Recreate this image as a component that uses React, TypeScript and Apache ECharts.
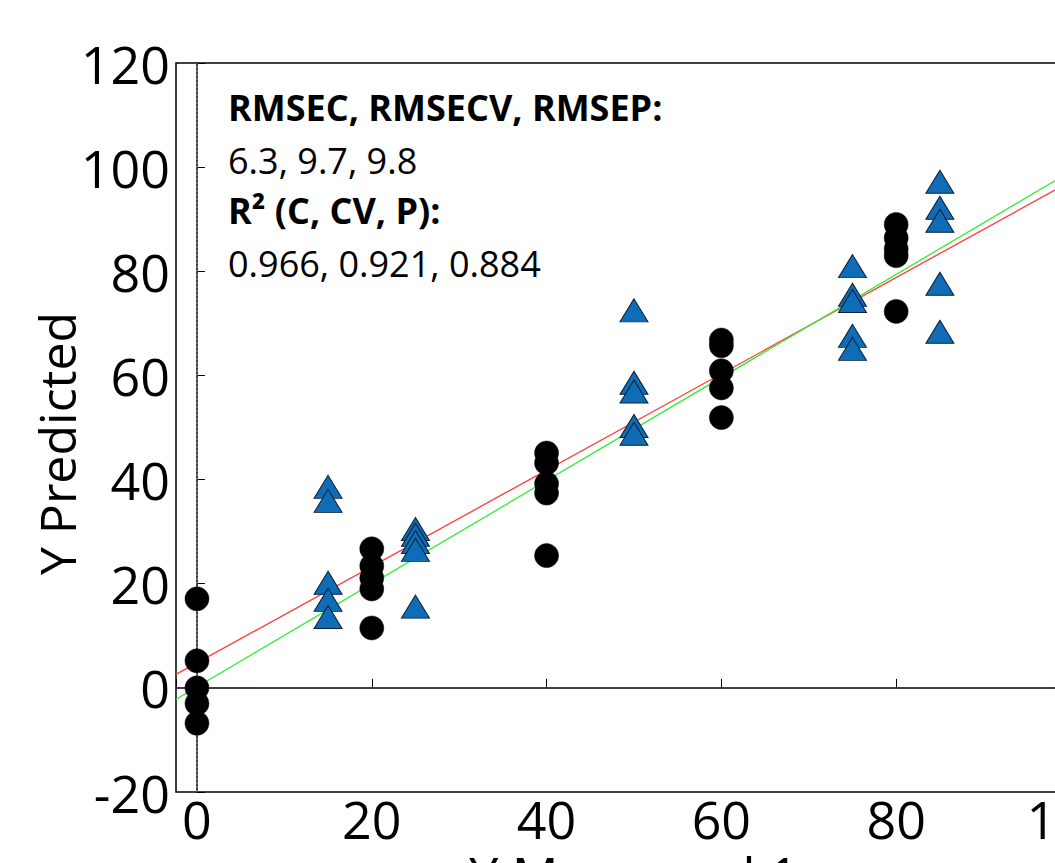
import React, { useEffect, useRef } from "react";
import * as echarts from "echarts";

// Calibration samples (black circles)
const measuredCal = [0, 0, 0, 0, 0, 20, 20, 20, 20, 20, 40, 40, 40, 40, 40, 60, 60, 60, 60, 60, 80, 80, 80, 80, 80];
const predictedCal = [17.1, 5.2, 0.0, -3.0, -6.8, 26.7, 23.4, 21.1, 19.0, 11.5, 45.1, 43.2, 39.2, 37.4, 25.4, 66.8, 65.7, 60.9, 57.6, 51.9, 89.0, 86.4, 84.3, 83.0, 72.3];

// Prediction samples (blue triangles)
const measuredPred = [15, 15, 15, 15, 15, 25, 25, 25, 25, 25, 50, 50, 50, 50, 50, 75, 75, 75, 75, 75, 85, 85, 85, 85, 85];
const predictedPred = [38.6, 35.9, 20.2, 16.9, 13.6, 30.5, 29.4, 28.0, 26.5, 15.6, 72.5, 58.6, 56.9, 50.3, 48.8, 81.0, 75.5, 74.3, 67.6, 65.1, 97.2, 92.2, 89.7, 77.6, 68.4];

// Fit lines: [intercept, slope]
const redFit = [4.8, 0.925];
const greenFit = [0.2, 0.99];

const xTicks = [0, 20, 40, 60, 80, 100];
const statLines = [
  { text: "RMSEC, RMSECV, RMSEP:", bold: true },
  { text: "6.3, 9.7, 9.8", bold: false },
  { text: "R² (C, CV, P):", bold: true },
  { text: "0.966, 0.921, 0.884", bold: false },
];

const X_MIN = -2.4;
const X_MAX = 102.4;
const FONT = "'Open Sans', 'Noto Sans', sans-serif";

export default function App() {
  const ref = useRef<HTMLDivElement>(null);
  useEffect(() => {
    if (!ref.current) return;
    const chart = echarts.init(ref.current, undefined, { renderer: "svg" });
    const fitLine = (f: number[]) => [
      [X_MIN, f[0] + f[1] * X_MIN],
      [X_MAX, f[0] + f[1] * X_MAX],
    ];
    const lineYs = [107, 160, 210, 263];
    chart.setOption({
      animation: false,
      backgroundColor: "#fff",
      textStyle: { fontFamily: FONT },
      grid: {
        left: 176,
        top: 63,
        width: (X_MAX - X_MIN) * 8.74,
        height: 729,
        containLabel: false,
        outerBoundsMode: "none",
        show: true,
        borderColor: "#000",
        borderWidth: 1.5,
        backgroundColor: "transparent",
      },
      xAxis: {
        type: "value",
        min: X_MIN,
        max: X_MAX,
        name: "Y Measured 1",
        nameLocation: "middle",
        nameGap: 60,
        nameMoveOverlap: false,
        nameTextStyle: { fontSize: 52, lineHeight: 44, color: "#000", fontFamily: FONT },
        axisLine: { show: true, lineStyle: { color: "#000", width: 1.5 } },
        axisTick: { show: true, inside: true, length: 9, lineStyle: { color: "#000" } },
        axisLabel: {
          fontSize: 52,
          color: "#000",
          fontFamily: FONT,
          margin: 0,
          hideOverlap: false,
          formatter: (v: number) => (xTicks.some((t) => Math.abs(t - v) < 1e-6) ? String(Math.round(v)) : ""),
        },
        splitLine: { show: false },
      },
      yAxis: {
        type: "value",
        min: -20,
        max: 120,
        interval: 20,
        name: "Y Predicted",
        nameLocation: "middle",
        nameGap: 94,
        nameMoveOverlap: false,
        nameTextStyle: { fontSize: 50, color: "#000", fontFamily: FONT, padding: [0, 32, 0, 0] },
        axisLine: { show: true, lineStyle: { color: "#000", width: 1.5 } },
        axisTick: { show: true, inside: true, length: 8, lineStyle: { color: "#000" } },
        axisLabel: { fontSize: 52, color: "#000", fontFamily: FONT, margin: 6 },
        splitLine: { show: false },
      },
      graphic: statLines.map((l, i) => ({
        type: "text",
        x: 228,
        y: lineYs[i],
        z: 100,
        style: {
          text: l.text,
          fontSize: 36,
          fontWeight: l.bold ? "bold" : "normal",
          fontFamily: FONT,
          fill: "#000",
          align: "left",
          verticalAlign: "middle",
        },
      })),
      series: [
        {
          type: "line",
          data: [
            [0, -20],
            [0, 120],
          ],
          symbol: "none",
          silent: true,
          lineStyle: { color: "#999", width: 1, type: [2, 2] },
          z: 1,
        },
        {
          type: "line",
          data: [
            [X_MIN, 0],
            [X_MAX, 0],
          ],
          symbol: "none",
          silent: true,
          lineStyle: { color: "#444", width: 1.2, type: [2, 1] },
          z: 1,
        },
        {
          type: "line",
          data: fitLine(redFit),
          symbol: "none",
          silent: true,
          lineStyle: { color: "#ff3a3a", width: 1.3 },
          z: 2,
        },
        {
          type: "line",
          data: fitLine(greenFit),
          symbol: "none",
          silent: true,
          lineStyle: { color: "#33ee33", width: 1.3 },
          z: 2,
        },
        {
          type: "scatter",
          data: measuredCal.map((x, i) => [x, predictedCal[i]]),
          symbol: "circle",
          symbolSize: 24,
          itemStyle: { color: "#000", borderColor: "#000", borderWidth: 0.5, opacity: 1 },
          z: 3,
        },
        {
          type: "scatter",
          data: measuredPred.map((x, i) => [x, predictedPred[i]]),
          symbol: "triangle",
          symbolSize: [28, 23],
          itemStyle: { color: "#0f6cb6", borderColor: "#10213a", borderWidth: 1, opacity: 1 },
          z: 4,
        },
      ],
    });
    return () => chart.dispose();
  }, []);
  return (
    <div
      ref={ref}
      style={{ position: "absolute", left: 0, top: 0, width: 1055, height: 863 }}
    />
  );
}
